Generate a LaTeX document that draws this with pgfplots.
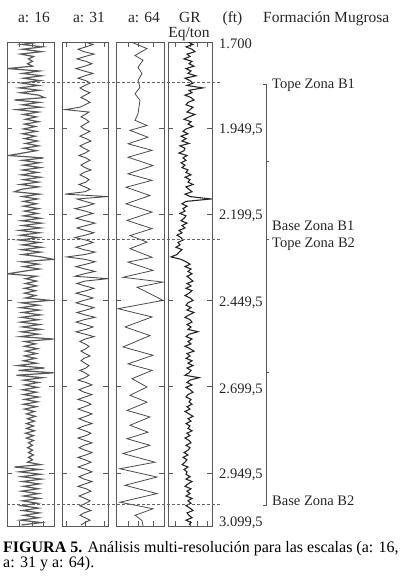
\documentclass[border=0pt]{standalone}
\usepackage{fontspec}
\setmainfont{Liberation Serif}
\usepackage{pgfplots}
\usepackage{pgfplotstable}
\pgfplotsset{compat=1.18}
\definecolor{frame}{gray}{0.35}
\pgfplotstableread{
d a16 a31 gr
1700 10 0 188
1707 -9 8 193
1714 12 1 186
1721 -8 -7 192
1728 11 -1 195
1735 -10 9 187
1742 3 0 190
1749 -2 -8 184
1756 2 1 192
1763 -3 7 189
1770 2 0 194
1777 -23 -9 186
1784 9 -1 191
1791 -8 8 188
1798 11 0 196
1805 -7 -7 185
1812 10 1 190
1819 -9 5 193
1826 8 0 187
1833 -11 -5 203
1840 9 -1 189
1847 -10 5 192
1854 8 0 185
1861 14 -4 191
1868 -16 1 194
1875 9 5 188
1882 -8 0 186
1889 10 -5 193
1896 -14 -20 190
1903 8 4 187
1910 -7 0 195
1917 6 -4 189
1924 -5 1 184
1931 8 4 191
1938 -6 0 188
1945 5 -4 193
1952 -7 -1 186
1959 6 5 183
1966 -8 0 188
1973 5 -5 181
1980 -6 1 186
1987 7 6 182
1994 -5 0 189
2001 8 -5 180
2008 -7 -1 185
2015 6 4 184
2022 -8 0 179
2029 -22 -6 187
2036 13 1 183
2043 -8 5 186
2050 9 0 181
2057 -7 -4 185
2064 10 0 182
2071 -8 6 188
2078 7 -1 186
2085 -9 -5 191
2092 10 0 185
2099 -7 4 190
2106 8 1 188
2113 -10 -6 193
2120 8 0 186
2127 -9 5 189
2134 -16 0 192
2141 9 -20 185
2148 -8 23 190
2155 7 -8 211
2162 -7 0 186
2169 6 9 182
2176 -7 1 187
2183 8 -10 183
2190 -6 0 185
2197 7 8 180
2204 -7 -1 186
2211 10 -9 184
2218 -9 0 181
2225 11 10 187
2232 -8 1 182
2239 10 -8 185
2246 -11 0 179
2253 9 9 182
2260 -10 0 177
2267 8 -10 181
2274 -11 1 183
2281 9 8 178
2288 -8 0 180
2295 11 -9 176
2302 -9 -1 182
2309 10 10 179
2316 -8 0 177
2323 11 -18 171
2330 23 0 181
2337 -9 10 186
2344 8 1 190
2351 -7 -9 185
2358 9 0 191
2365 -8 10 188
2372 -23 -1 192
2379 6 -10 187
2386 -5 23 190
2393 6 0 193
2400 -5 -8 187
2407 6 0 191
2414 -6 9 186
2421 5 1 192
2428 -6 -9 189
2435 5 0 185
2442 -5 8 190
2449 20 -1 193
2456 -9 -9 188
2463 8 0 186
2470 -10 9 191
2477 9 1 187
2484 -8 -8 194
2491 10 0 189
2498 -9 10 185
2505 8 -1 190
2512 -10 -9 192
2519 9 0 187
2526 -8 8 191
2533 10 1 188
2540 -9 -9 198
2547 8 0 189
2554 -10 9 186
2561 23 0 192
2568 -6 -5 188
2575 5 0 191
2582 -6 4 185
2589 7 1 190
2596 -5 -4 194
2603 6 0 187
2610 -6 5 190
2617 5 -1 186
2624 -7 -4 192
2631 6 0 188
2638 -13 4 193
2645 14 1 187
2652 -12 -5 191
2659 23 0 189
2666 -14 4 185
2673 12 0 199
2680 -7 -7 190
2687 8 1 187
2694 -6 7 192
2701 7 0 186
2708 -8 -6 190
2715 6 -1 193
2722 -7 7 188
2729 8 0 186
2736 -6 -7 191
2743 7 1 189
2750 -7 6 192
2757 6 0 187
2764 -6 -7 190
2771 4 0 185
2778 -4 7 189
2785 5 1 193
2792 -3 -6 188
2799 4 0 191
2806 -4 7 186
2813 3 -1 190
2820 -4 -7 188
2827 4 0 192
2834 -5 6 187
2841 3 1 190
2848 -4 -7 185
2855 3 0 189
2862 -2 7 191
2869 2 -1 186
2876 -3 -6 190
2883 2 0 188
2890 -2 7 184
2897 3 1 188
2904 -2 -7 183
2911 2 0 187
2918 -3 6 185
2925 10 0 182
2932 -16 -7 188
2939 9 1 184
2946 -11 7 187
2953 10 0 186
2960 -9 -6 190
2967 11 -1 186
2974 -8 7 192
2981 9 0 188
2988 -7 -7 185
2995 8 1 191
3002 -9 6 187
3009 8 0 190
3016 -7 -6 186
3023 9 0 192
3030 -8 5 188
3037 7 1 191
3044 -9 -5 186
3051 8 0 190
3058 -8 6 193
3065 9 -1 187
3072 -7 -5 189
3079 8 0 192
3086 -10 5 186
3093 11 0 191
3100 -9 -4 189
}\logdata
\pgfplotstableread{
d a64
1700 131
1719 147
1739 135
1753 143
1773 138
1792 142
1811 138
1831 140
1850 135
1869 140
1889 139
1908 138
1927 135
1942 147
1956 130
1976 148
1995 128
2014 152
2034 128
2058 153
2082 128
2101 152
2121 126
2145 150
2169 126
2193 152
2217 127
2241 152
2261 130
2280 147
2299 130
2324 152
2338 128
2362 153
2382 123
2396 163
2411 137
2425 147
2449 163
2473 118
2497 152
2526 125
2551 150
2584 123
2608 153
2633 128
2652 152
2676 132
2700 147
2724 130
2744 147
2768 127
2787 150
2811 130
2831 148
2850 127
2869 150
2893 123
2918 155
2937 120
2961 157
2985 125
3009 157
3034 120
3053 153
3072 135
3087 142
3103 143
}\wavedata
\pgfplotsset{panel/.style={
  scale only axis, height=484pt, anchor=north west,
  ymin=1700, ymax=3103, y dir=reverse,
  ytick={1949.5,2199.5,2449.5,2699.5,2949.5},
  xticklabels={}, yticklabels={},
  tick align=inside, major tick length=5pt,
  axis line style={frame, line width=0.8pt},
  tick style={frame, line width=0.8pt},
  clip=true,
}}
\begin{document}
\begin{tikzpicture}
\useasboundingbox (0,0) rectangle (400pt,-576pt);
\begin{axis}[panel, at={(7pt,-42pt)}, width=47pt, xmin=-23.5, xmax=23.5, xtick={-11,2,13}]
\addplot[no markers, gray!70!black, line width=1.2pt] table[x=a16, y=d] {\logdata};
\end{axis}
\begin{axis}[panel, at={(62pt,-42pt)}, width=46pt, xmin=-23, xmax=23, xtick={-19,0,19}]
\addplot[no markers, gray!60!black, line width=0.9pt] table[x=a31, y=d] {\logdata};
\end{axis}
\begin{axis}[panel, at={(116pt,-42pt)}, width=48pt, xmin=116, xmax=164, xtick={128,138,153}]
\addplot[no markers, gray!60!black, line width=0.8pt] table[x=a64, y=d] {\wavedata};
\end{axis}
\begin{axis}[panel, at={(168pt,-42pt)}, width=44pt, xmin=168, xmax=212, xtick={175,190,197,207}]
\addplot[no markers, black!85, line width=1.1pt] table[x=gr, y=d] {\logdata};
\end{axis}
% dashed zone lines
\begin{scope}[gray!80!black, line width=0.7pt, dash pattern=on 3pt off 2pt]
\draw (7pt,-82pt) -- (222pt,-82pt);
\draw (7pt,-239.3pt) -- (222pt,-239.3pt);
\draw (7pt,-504pt) -- (222pt,-504pt);
\end{scope}
% bracket
\draw[frame, line width=0.8pt] (263pt,-84pt) -- (266pt,-84pt) -- (266pt,-505pt) -- (263pt,-505pt);
\draw[frame, line width=0.8pt] (266pt,-161pt) -- (269pt,-161pt);
\draw[frame, line width=0.8pt] (266pt,-239pt) -- (269pt,-239pt);
\draw[frame, line width=0.8pt] (266pt,-372pt) -- (269pt,-372pt);
% headers
\begin{scope}[every node/.style={inner sep=0pt, font=\fontsize{15.5}{18}\selectfont, text=black!85}]
\node[anchor=base] at (34pt,-22.5pt) {a: 16};
\node[anchor=base] at (89pt,-22.5pt) {a: 31};
\node[anchor=base] at (144pt,-22.5pt) {a: 64};
\node[anchor=base] at (190pt,-22.5pt) {GR};
\node[anchor=base] at (189pt,-37pt) {Eq/ton};
\node[anchor=base] at (232.5pt,-22.5pt) {(ft)};
\node[anchor=base west] at (263pt,-22.5pt) {Formación Mugrosa};
\end{scope}
% depth labels
\begin{scope}[every node/.style={inner sep=0pt, anchor=base west, font=\fontsize{14.5}{17}\selectfont, text=black!85}]
\node at (219pt,-48pt) {1.700};
\node at (219pt,-133pt) {1.949,5};
\node at (219pt,-219pt) {2.199,5};
\node at (219pt,-306pt) {2.449,5};
\node at (219pt,-393pt) {2.699,5};
\node at (219pt,-478pt) {2.949,5};
\node at (219pt,-526pt) {3.099,5};
\node at (272pt,-88pt) {Tope Zona B1};
\node at (272pt,-230pt) {Base Zona B1};
\node at (272pt,-247pt) {Tope Zona B2};
\node at (272pt,-505pt) {Base Zona B2};
\end{scope}
% caption
\begin{scope}[every node/.style={inner sep=0pt, anchor=base west, font=\fontsize{16}{18}\selectfont}]
\node at (3pt,-552.5pt) {\textbf{FIGURA 5.} Análisis multi-resolución para las escalas (a: 16,};
\node at (3pt,-567.5pt) {a: 31 y a: 64).};
\end{scope}
\end{tikzpicture}
\end{document}
